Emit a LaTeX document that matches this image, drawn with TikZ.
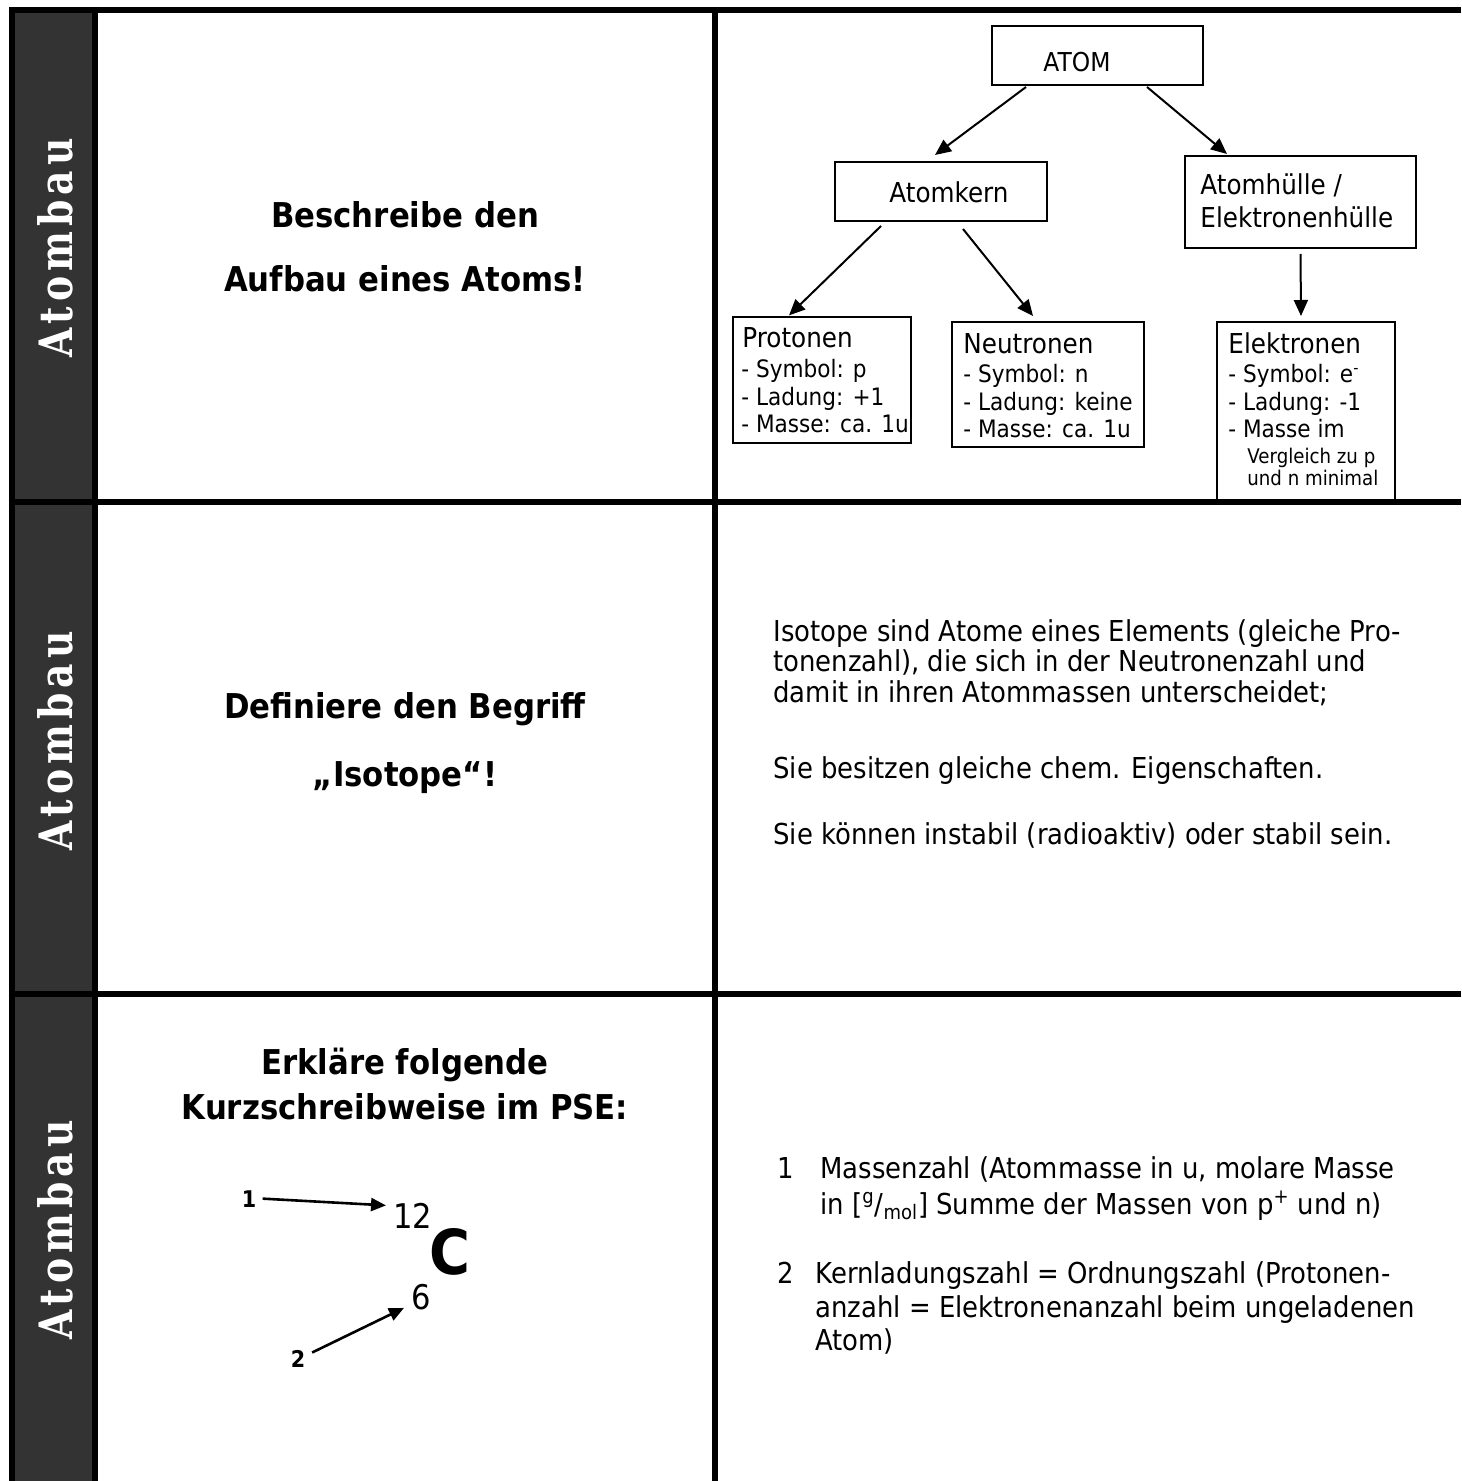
\documentclass[tikz,border=0pt]{standalone}
\usepackage{fontspec}
\setmainfont{DejaVu Sans}[FakeStretch=0.9]
\newfontfamily\seriflab[LetterSpace=11,FakeStretch=0.82]{DejaVu Serif}
\usetikzlibrary{arrows.meta}
\definecolor{darkcol}{HTML}{333333}
\begin{document}
\begin{tikzpicture}[x=0.5pt,y=-0.5pt,
  gridline/.style={line width=3pt, black},
  dbox/.style={draw, line width=1pt, inner sep=0pt, rectangle},
  arr/.style={line width=1pt, -{Triangle[length=8pt,width=7pt]}},
  carr/.style={line width=1.3pt, -{Triangle[length=7.5pt,width=6.5pt]}},
  txt/.style={inner sep=0pt, anchor=base west, font=\fontsize{14.4}{16}\selectfont},
  head/.style={inner sep=0pt, anchor=base, font=\fontsize{17.1}{20}\selectfont\bfseries},
  dtitle/.style={inner sep=0pt, anchor=base west, font=\fontsize{13.7}{16}\selectfont},
  ditem/.style={inner sep=0pt, anchor=base west, font=\fontsize{12}{14}\selectfont},
  dsmall/.style={inner sep=0pt, anchor=base west, font=\fontsize{10.1}{12}\selectfont},
  sidelab/.style={white, rotate=90, inner sep=0pt, font=\seriflab\bfseries\fontsize{23}{27}\selectfont}
]
\useasboundingbox (0,0) rectangle (1461,1481);
\fill[white] (0,0) rectangle (1461,1481);
\fill[darkcol] (12,10) rectangle (95,1481);

% side labels
\node[sidelab] (side1) at (55,248) {Atombau};
\node[sidelab] (side2) at (55,741) {Atombau};
\node[sidelab] (side3) at (55,1230) {Atombau};

% left questions
\node[head] (q1a) at (405,228) {Beschreibe den};
\node[head] (q1b) at (405,292) {Aufbau eines Atoms!};
\node[head] (q2a) at (405,718) {Definiere den Begriff};
\node[head] (q2b) at (405,786) {„Isotope“!};
\node[head] (q3a) at (405,1074) {Erkläre folgende};
\node[head] (q3b) at (405,1119) {Kurzschreibweise im PSE:};

% diagram boxes
\node[dbox, minimum width=105.5pt, minimum height=29.5pt] (atom) at (1097.5,55.5) {};
\node[dbox, minimum width=106pt, minimum height=29.5pt] (kern) at (941,191.5) {};
\node[dbox, minimum width=115.5pt, minimum height=46pt] (huelle) at (1300.5,202) {};
\node[dbox, minimum width=89pt, minimum height=63pt] (prot) at (822,380) {};
\node[dbox, minimum width=96pt, minimum height=62.5pt] (neut) at (1048,384.5) {};
\node[dbox, minimum width=89pt, minimum height=89pt] (elek) at (1306,411) {};

% diagram texts
\node[dtitle, font=\fontsize{13}{15}\selectfont] (tatom) at (1043,72) {ATOM};
\node[dtitle] (tkern) at (889,203) {Atomkern};
\node[dtitle] (thue1) at (1200,195) {Atomhülle /};
\node[dtitle] (thue2) at (1200,228) {Elektronenhülle};
\node[dtitle] (tprot) at (742,348) {Protonen};
\node[ditem] (tprot1) at (741,377) {- Symbol: p};
\node[ditem] (tprot2) at (741,405) {- Ladung: +1};
\node[ditem] (tprot3) at (741,432) {- Masse: ca. 1u};
\node[dtitle] (tneut) at (963,353) {Neutronen};
\node[ditem] (tneut1) at (963,382) {- Symbol: n};
\node[ditem] (tneut2) at (963,410) {- Ladung: keine};
\node[ditem] (tneut3) at (963,437) {- Masse: ca. 1u};
\node[dtitle] (telek) at (1228,353) {Elektronen};
\node[ditem] (telek1) at (1228,382) {- Symbol: e\textsuperscript{-}};
\node[ditem] (telek2) at (1228,410) {- Ladung: -1};
\node[ditem] (telek3) at (1228,437) {- Masse im};
\node[dsmall] (telek4) at (1247,463) {Vergleich zu p};
\node[dsmall] (telek5) at (1247,485) {und n minimal};

% diagram arrows
\draw[arr] ([xshift=-35.75pt,yshift=-0.5pt]atom.south) -- ([xshift=-3pt,yshift=3pt]kern.north);
\draw[arr] ([xshift=24.75pt,yshift=-0.5pt]atom.south) -- ([xshift=-36.75pt,yshift=0.5pt]huelle.north);
\draw[arr] ([xshift=-30pt,yshift=-2pt]kern.south) -- ([xshift=-16.5pt,yshift=0.3pt]prot.north);
\draw[arr] ([xshift=11pt,yshift=-3.5pt]kern.south) -- ([xshift=-7.5pt,yshift=2.5pt]neut.north);
\draw[arr] ([yshift=-2.5pt]huelle.south) -- ([xshift=-2.5pt,yshift=2.5pt]elek.north);

% row 2 answer
\node[txt] (i1) at (773,641) {Isotope sind Atome eines Elements (gleiche Pro-};
\node[txt] (i2) at (773,671) {tonenzahl), die sich in der Neutronenzahl und};
\node[txt] (i3) at (773,702) {damit in ihren Atommassen unterscheidet;};
\node[txt] (i4) at (773,778) {Sie besitzen gleiche chem. Eigenschaften.};
\node[txt] (i5) at (773,844) {Sie können instabil (radioaktiv) oder stabil sein.};

% row 3 notation
\node[inner sep=0pt, anchor=base west, font=\fontsize{17}{20}\selectfont] (n12) at (393,1228) {12};
\node[inner sep=0pt, anchor=base west, font=\fontsize{31}{36}\selectfont\bfseries] (sym) at (429,1274) {C};
\node[inner sep=0pt, anchor=base west, font=\fontsize{17}{20}\selectfont] (six) at (411,1309) {6};
\node[inner sep=0pt, anchor=base, font=\fontsize{11.5}{13}\selectfont\bfseries] (one) at (249,1207) {1};
\node[inner sep=0pt, anchor=base, font=\fontsize{11.5}{13}\selectfont\bfseries] (two) at (298,1367) {2};
\draw[carr] ([xshift=3pt]one.east) -- ([xshift=-3.5pt,yshift=5pt]n12.west);
\draw[carr] ([xshift=3.25pt,yshift=-1.5pt]two.north east) -- ([xshift=-3.5pt,yshift=1pt]six.south west);

% row 3 answer
\node[txt] (m1) at (777,1178) {1};
\node[txt] (m1a) at (820,1178) {Massenzahl (Atommasse in u, molare Masse};
\node[txt] (m1b) at (820,1214) {in [\textsuperscript{g}/\textsubscript{mol}] Summe der Massen von p\textsuperscript{+} und n)};
\node[txt] (m2) at (777,1283) {2};
\node[txt] (m2a) at (815,1283) {Kernladungszahl = Ordnungszahl (Protonen-};
\node[txt] (m2b) at (815,1317) {anzahl = Elektronenanzahl beim ungeladenen};
\node[txt] (m2c) at (815,1350) {Atom)};

% grid lines
\draw[gridline] (9,10) -- (1461,10);
\draw[gridline] (12,7) -- (12,1481);
\draw[gridline] (95,10) -- (95,1481);
\draw[gridline] (715,10) -- (715,1481);
\draw[gridline] (9,502) -- (1461,502);
\draw[gridline] (9,994) -- (1461,994);
\end{tikzpicture}
\end{document}
